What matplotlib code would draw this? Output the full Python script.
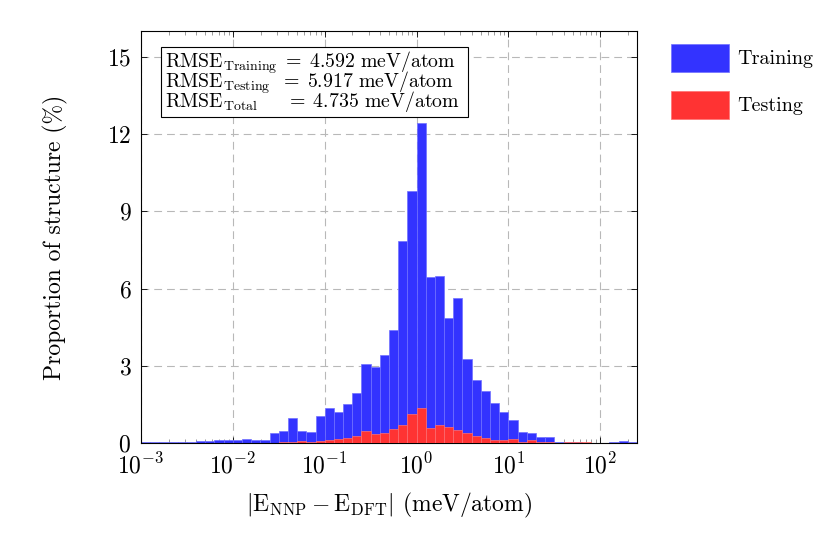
import matplotlib
matplotlib.use("Agg")
import matplotlib.pyplot as plt
import numpy as np
from matplotlib.patches import Patch, Rectangle

plt.rcParams['font.family'] = 'serif'
plt.rcParams['font.serif'] = ['cmr10', 'DejaVu Serif']
plt.rcParams['mathtext.fontset'] = 'cm'
plt.rcParams['axes.formatter.use_mathtext'] = True

# histogram bins: 0.1 decade wide, from 10^-3 to 10^2.4
bin_exponents = np.arange(-30, 25) / 10.0

# Training heights (%), one per bin
training = [0.02, 0.04, 0.02, 0.03, 0.03, 0.05, 0.06, 0.06, 0.11, 0.11,
            0.11, 0.15, 0.11, 0.12, 0.38, 0.47, 0.96, 0.47, 0.44, 1.06,
            1.37, 1.19, 1.50, 1.96, 3.06, 2.97, 3.42, 4.39, 7.85, 9.77,
            12.42, 6.44, 6.49, 4.85, 5.65, 3.26, 2.44, 2.03, 1.57, 1.22,
            0.88, 0.44, 0.39, 0.25, 0.22, 0.05, 0.02, 0.02, 0.01, 0.01,
            0.01, 0.02, 0.06, 0.02]

# Testing heights (%)
testing = [0, 0, 0, 0, 0, 0, 0, 0, 0, 0,
           0, 0, 0, 0, 0, 0.02, 0.05, 0.09, 0.05, 0.09,
           0.10, 0.14, 0.21, 0.27, 0.48, 0.35, 0.38, 0.55, 0.70, 1.13,
           1.37, 0.60, 0.69, 0.62, 0.50, 0.38, 0.27, 0.20, 0.12, 0.13,
           0.14, 0.03, 0.12, 0.05, 0.02, 0.01, 0.03, 0.03, 0.03, 0,
           0, 0, 0, 0]

rmse_labels = ['Training', 'Testing', 'Total']
rmse_values = [4.592, 5.917, 4.735]

edges = 10 ** bin_exponents
widths = np.diff(edges)

blue = '#3333ff'
red = '#ff3333'

fig = plt.figure(figsize=(8.31, 5.55), dpi=100)
ax = fig.add_axes([141/831, 1 - 443/555, 496/831, 412/555])

ax.bar(edges[:-1], training, width=widths, align='edge', color=blue,
       edgecolor='#7070ff', linewidth=0.5, zorder=2)
ax.bar(edges[:-1], testing, width=widths, align='edge', color=red,
       edgecolor='#ff7070', linewidth=0.5, zorder=3)

ax.set_xscale('log')
ax.set_xlim(1e-3, 10 ** 2.4)
ax.set_ylim(0, 16)
ax.set_yticks([0, 3, 6, 9, 12, 15])
ax.set_xticks([1e-3, 1e-2, 1e-1, 1e0, 1e1, 1e2])

ax.set_axisbelow(True)
ax.grid(True, which='major', color='#b8b8b8', linestyle=(0, (7, 4.5)), linewidth=0.8)

ax.tick_params(which='both', direction='in', top=True, right=True, labelsize=17)
ax.tick_params(which='major', length=4.5, width=0.6, pad=7)
ax.tick_params(which='minor', length=3, width=0.5, color='0.45')
for s in ax.spines.values():
    s.set_linewidth(0.8)

ax.set_ylabel('Proportion of structure (%)', fontsize=17, labelpad=28)
ax.set_xlabel(r'$|\mathrm{E}_{\mathrm{NNP}} - \mathrm{E}_{\mathrm{DFT}}|$ (meV/atom)',
              fontsize=17, labelpad=9)

# RMSE annotation box
ax.add_patch(Rectangle((0.040, 0.791), 0.619, 0.170, transform=ax.transAxes,
                       facecolor='white', edgecolor='black', linewidth=0.8, zorder=5))
pads = [r'', r'\;', r'\ \ \ \ ']
ys = [0.912, 0.863, 0.815]
for lab, val, pad, y in zip(rmse_labels, rmse_values, pads, ys):
    ax.text(0.049, y, r'$\mathrm{RMSE}_{\mathrm{%s}}%s\;=\;%.3f\ \mathrm{meV/atom}$' % (lab, pad, val),
            transform=ax.transAxes, fontsize=14.3, va='baseline', ha='left', zorder=6)

handles = [Patch(facecolor=blue, edgecolor='#7070ff', linewidth=0.5),
           Patch(facecolor=red, edgecolor='#ff7070', linewidth=0.5)]
fig.legend(handles, ['Training', 'Testing'], loc='upper left',
           bbox_to_anchor=(671/831, 1 - 44/555), bbox_transform=fig.transFigure,
           frameon=False, fontsize=14.5, handlelength=2.9, handleheight=1.75,
           handletextpad=0.4, labelspacing=0.95, borderpad=0, borderaxespad=0)

fig.savefig('out.png', dpi=100)
